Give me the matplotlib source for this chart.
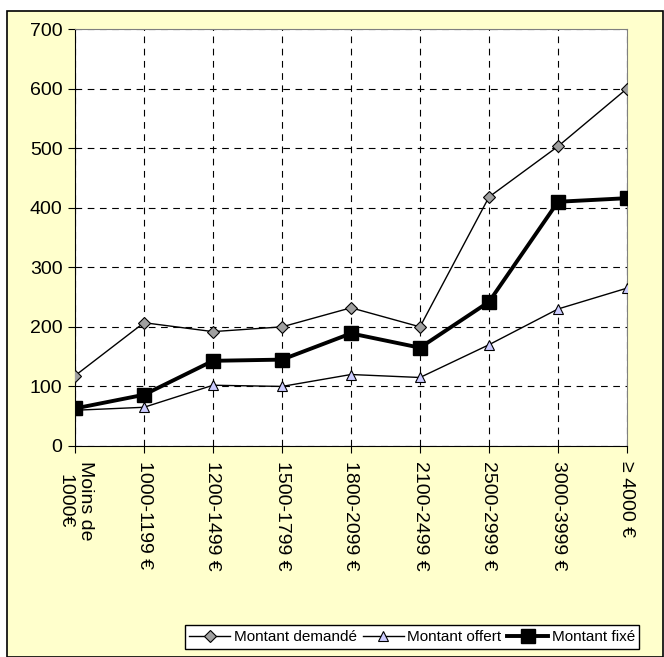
import matplotlib.pyplot as plt
from matplotlib.patches import Rectangle
import numpy as np

categories = ['Moins de\n1000€', '1000-1199 €', '1200-1499 €', '1500-1799 €', '1800-2099 €',
              '2100-2499 €', '2500-2999 €', '3000-3999 €', '≥ 4000 €']
demande = [118, 207, 192, 200, 232, 200, 418, 503, 600]
offert = [60, 65, 102, 100, 120, 115, 170, 230, 265]
fixe = [63, 86, 143, 145, 189, 165, 242, 410, 416]

plt.rcParams['font.family'] = ['Liberation Sans', 'DejaVu Sans']

fig = plt.figure(figsize=(6.64, 6.57), dpi=100)
fig.patches.append(Rectangle((7 / 664, 0), 656 / 664, 646 / 657, transform=fig.transFigure,
                             facecolor='#FFFFCC', edgecolor='black', linewidth=1.2, zorder=-1))

ax = fig.add_axes([75 / 664, 1 - 446 / 657, 552 / 664, 417 / 657])
x = np.arange(len(categories))

ax.plot(x, demande, color='black', lw=1, marker='D', ms=6.5, mfc='#A0A0A0', mec='black', mew=0.8,
        label='Montant demandé', zorder=3)
ax.plot(x, offert, color='black', lw=1, marker='^', ms=7.5, mfc='#CCCCFF', mec='black', mew=0.8,
        label='Montant offert', zorder=3)
ax.plot(x, fixe, color='black', lw=2.8, marker='s', ms=9.5, mfc='black', mec='black',
        label='Montant fixé', zorder=4)

ax.set_xlim(0, len(categories) - 1)
ax.set_ylim(0, 700)
ax.set_yticks(range(0, 701, 100))
ax.set_xticks(x)
ax.set_xticklabels(categories, rotation=270, ha='center', va='top', fontsize=14,
                   linespacing=1.3, multialignment='center')
ax.tick_params(axis='y', labelsize=14, direction='out', length=5, pad=4)
ax.tick_params(axis='x', direction='out', length=5, pad=6)

ax.grid(True, color='black', linestyle=(0, (6, 5)), lw=0.8)
ax.set_facecolor('white')
for s in ['top', 'right']:
    ax.spines[s].set_color('#808080')
ax.spines['left'].set_color('black')
ax.spines['bottom'].set_color('black')

fig.legend(loc='center', bbox_to_anchor=(412 / 664, 1 - 637 / 657), ncol=3, fontsize=11,
           frameon=True, fancybox=False, edgecolor='black', framealpha=1, handlelength=2.7,
           handletextpad=0.2, columnspacing=0.4, borderpad=0.3, borderaxespad=0)

plt.savefig('out.png', dpi=100)
